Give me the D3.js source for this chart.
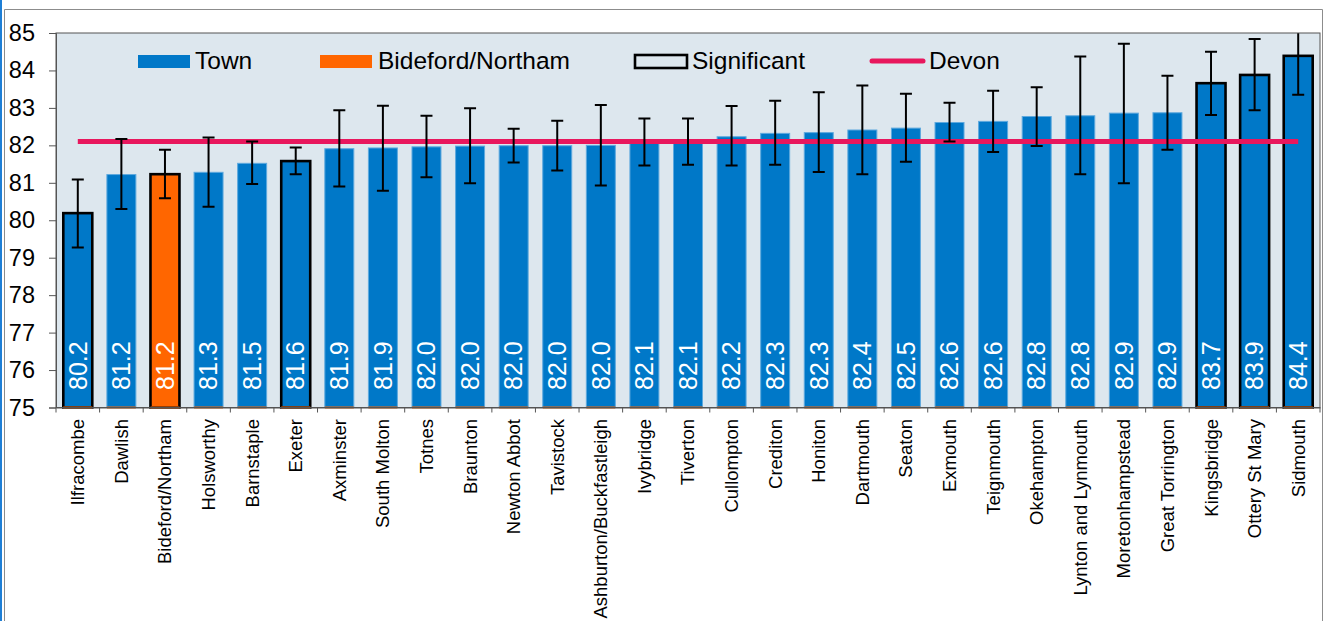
<!DOCTYPE html>
<html><head><meta charset="utf-8">
<script src="https://cdn.jsdelivr.net/npm/d3@7"></script>
<style>
html,body{margin:0;padding:0;background:#fff;}
svg{display:block;font-family:"Liberation Sans",Arial,sans-serif;}
</style></head>
<body><svg id="c" width="1328" height="621"></svg>
<script>
const towns = ["Ilfracombe","Dawlish","Bideford/Northam","Holsworthy","Barnstaple","Exeter","Axminster","South Molton","Totnes","Braunton","Newton Abbot","Tavistock","Ashburton/Buckfastleigh","Ivybridge","Tiverton","Cullompton","Crediton","Honiton","Dartmouth","Seaton","Exmouth","Teignmouth","Okehampton","Lynton and Lynmouth","Moretonhampstead","Great Torrington","Kingsbridge","Ottery St Mary","Sidmouth"];
const values = [80.19,81.22,81.23,81.28,81.52,81.58,81.91,81.93,81.96,81.98,81.99,81.99,82.00,82.06,82.08,82.23,82.32,82.34,82.41,82.46,82.61,82.64,82.77,82.79,82.86,82.87,83.66,83.88,84.39];
const lower = [79.27,80.30,80.59,80.36,80.97,81.23,80.90,80.79,81.15,80.99,81.54,81.33,80.93,81.46,81.48,81.46,81.48,81.29,81.23,81.56,82.10,81.82,81.98,81.23,80.99,81.88,82.81,82.94,83.35];
const upper = [81.09,82.17,81.88,82.21,82.10,81.94,82.94,83.06,82.79,82.99,82.44,82.66,83.08,82.72,82.72,83.05,83.19,83.42,83.60,83.38,83.14,83.46,83.55,84.37,84.71,83.86,84.50,84.84,85.40];
const significant = ["Ilfracombe","Bideford/Northam","Exeter","Kingsbridge","Ottery St Mary","Sidmouth"];
const highlight = "Bideford/Northam";
const devon = 82.1;
const yTicks = [75,76,77,78,79,80,81,82,83,84,85];
const legendItems = ["Town","Bideford/Northam","Significant","Devon"];

const svg = d3.select("#c");
const L = 56, R = 1320, T = 33, B = 407.5;
const BLUE = "#0078c8", ORANGE = "#ff6600", PINK = "#e8175d";

// outer frame
svg.append("line").attr("x1",1).attr("x2",1).attr("y1",0).attr("y2",621).attr("stroke","#1e7fd6").attr("stroke-width",2);
svg.append("path").attr("d",`M4.5,621 V9.5 H1322.5 V621`).attr("fill","none").attr("stroke","#8c8c8c").attr("stroke-width",1);

const x = d3.scaleBand().domain(towns).range([L,R]).paddingInner(0.335).paddingOuter(0.1675);
const y = d3.scaleLinear().domain([75,85]).range([B,T]);

svg.append("rect").attr("x",L).attr("y",T).attr("width",R-L).attr("height",B-T).attr("fill","#dde7ee");

svg.append("clipPath").attr("id","pc").append("rect").attr("x",L).attr("y",T).attr("width",R-L).attr("height",B-T);

const data = towns.map((t,i)=>({t,v:values[i],lo:lower[i],hi:upper[i],sig:significant.includes(t)}));

const g = svg.append("g");
// bars
g.selectAll("rect.bar").data(data).join("rect").attr("class","bar")
  .attr("x",d=>x(d.t)).attr("width",x.bandwidth())
  .attr("y",d=>y(d.v)).attr("height",d=>B-y(d.v))
  .attr("fill",d=>d.t===highlight?ORANGE:BLUE)
  .attr("stroke",d=>d.sig?"#000":"#5ea9de")
  .attr("stroke-width",d=>d.sig?2.6:1);
// orange base marks
g.selectAll("rect.base").data(data).join("rect").attr("class","base")
  .attr("x",d=>x(d.t)).attr("width",x.bandwidth()).attr("y",B-1).attr("height",2)
  .attr("fill",ORANGE);

// value labels
g.selectAll("text.val").data(data).join("text").attr("class","val")
  .attr("transform",d=>`translate(${x(d.t)+x.bandwidth()/2},390) rotate(-90)`)
  .attr("dy","0.35em").attr("fill","#fff").attr("font-size",25).text(d=>d.v.toFixed(1));

// devon line
const cx = d=>x(d)+x.bandwidth()/2;
svg.append("line").attr("x1",cx(towns[0])).attr("x2",cx(towns[towns.length-1]))
  .attr("y1",y(devon)).attr("y2",y(devon)).attr("stroke",PINK).attr("stroke-width",5);

// error bars
const eb = svg.append("g").attr("clip-path","url(#pc)").attr("stroke","#000").attr("stroke-width",2);
eb.selectAll("path").data(data).join("path").attr("fill","none")
  .attr("d",d=>{const c=cx(d.t);return `M${c},${y(d.lo)}V${y(d.hi)}M${c-6},${y(d.lo)}H${c+6}M${c-6},${y(d.hi)}H${c+6}`;});

// plot border
svg.append("rect").attr("x",L).attr("y",T).attr("width",R-L).attr("height",B-T).attr("fill","none").attr("stroke","#555").attr("stroke-width",1);

// y axis
const ya = svg.append("g").attr("transform",`translate(${L},0)`)
  .call(d3.axisLeft(y).tickValues(yTicks).tickSize(7).tickPadding(14).tickFormat(d3.format("d")));
ya.select(".domain").attr("stroke","#555");
ya.selectAll(".tick line").attr("stroke","#555");
ya.selectAll(".tick text").attr("font-size",23.5).attr("fill","#000").attr("font-family","Liberation Sans, Arial");

// x axis
const xa = svg.append("g").attr("transform",`translate(0,${B})`)
  .call(d3.axisBottom(x).tickSize(0).tickFormat(""));
xa.select(".domain").attr("stroke","#555");
const bounds = d3.range(towns.length+1).map(i=>L+i*(R-L)/towns.length);
xa.selectAll("line.sep").data(bounds).join("line").attr("class","sep")
  .attr("x1",d=>d).attr("x2",d=>d).attr("y1",0).attr("y2",5).attr("stroke","#555");
svg.selectAll("text.xl").data(towns).join("text").attr("class","xl")
  .attr("transform",d=>`translate(${cx(d)},419) rotate(-90)`)
  .attr("text-anchor","end").attr("dy","0.35em").attr("font-size",18.5).attr("fill","#000").text(d=>d);

// legend
const lg = svg.append("g").attr("font-size",24.5);
lg.append("rect").attr("x",138).attr("y",55).attr("width",52).attr("height",13).attr("fill",BLUE);
lg.append("text").attr("x",195).attr("y",68.5).text(legendItems[0]);
lg.append("rect").attr("x",320).attr("y",55).attr("width",52).attr("height",13).attr("fill",ORANGE);
lg.append("text").attr("x",378).attr("y",68.5).text(legendItems[1]);
lg.append("rect").attr("x",635).attr("y",55).attr("width",52).attr("height",13).attr("fill","none").attr("stroke","#000").attr("stroke-width",2.6);
lg.append("text").attr("x",692).attr("y",68.5).text(legendItems[2]);
lg.append("line").attr("x1",872).attr("x2",923).attr("y1",61).attr("y2",61).attr("stroke",PINK).attr("stroke-width",5).attr("stroke-linecap","round");
lg.append("text").attr("x",929).attr("y",68.5).text(legendItems[3]);
</script></body></html>
